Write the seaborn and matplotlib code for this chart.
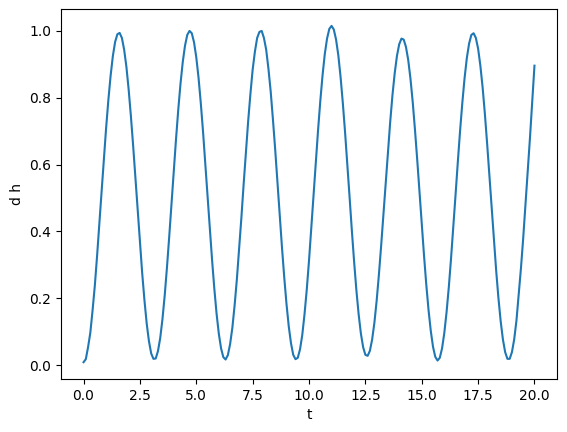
import numpy as np
import pandas as pd
import matplotlib
matplotlib.use("Agg")
import matplotlib.pyplot as plt
import seaborn as sns

# sample times (every 0.1 from 0 to 20)
t = np.round(np.arange(201) * 0.1, 1)

dh = [0.009, 0.018, 0.054, 0.097, 0.164, 0.238, 0.327, 0.421, 0.519, 0.616,
      0.709, 0.793, 0.866, 0.925, 0.967, 0.990, 0.994, 0.979, 0.944, 0.893,
      0.825, 0.745, 0.656, 0.560, 0.462, 0.366, 0.276, 0.195, 0.125, 0.072,
      0.035, 0.019, 0.020, 0.042, 0.081, 0.138, 0.209, 0.293, 0.385, 0.482,
      0.580, 0.675, 0.764, 0.842, 0.907, 0.956, 0.988, 1.000, 0.993, 0.966,
      0.921, 0.860, 0.784, 0.698, 0.604, 0.506, 0.409, 0.315, 0.229, 0.154,
      0.094, 0.050, 0.024, 0.017, 0.030, 0.063, 0.112, 0.179, 0.257, 0.347,
      0.441, 0.541, 0.636, 0.729, 0.811, 0.884, 0.938, 0.979, 0.997, 1.000,
      0.979, 0.944, 0.887, 0.819, 0.735, 0.645, 0.547, 0.450, 0.353, 0.264,
      0.184, 0.117, 0.066, 0.031, 0.018, 0.022, 0.047, 0.090, 0.152, 0.226,
      0.313, 0.408, 0.507, 0.606, 0.702, 0.790, 0.867, 0.931, 0.977, 1.006,
      1.015, 1.004, 0.974, 0.927, 0.862, 0.784, 0.696, 0.600, 0.502, 0.403,
      0.310, 0.225, 0.153, 0.095, 0.054, 0.031, 0.028, 0.043, 0.077, 0.127,
      0.193, 0.271, 0.358, 0.451, 0.546, 0.639, 0.727, 0.807, 0.873, 0.925,
      0.960, 0.977, 0.974, 0.952, 0.913, 0.857, 0.787, 0.704, 0.614, 0.518,
      0.422, 0.329, 0.242, 0.166, 0.103, 0.055, 0.025, 0.014, 0.022, 0.050,
      0.096, 0.158, 0.233, 0.320, 0.413, 0.510, 0.608, 0.701, 0.785, 0.859,
      0.919, 0.962, 0.988, 0.993, 0.979, 0.947, 0.896, 0.831, 0.752, 0.663,
      0.568, 0.470, 0.375, 0.284, 0.202, 0.132, 0.077, 0.039, 0.019, 0.019,
      0.039, 0.077, 0.133, 0.210, 0.290, 0.380, 0.480, 0.580, 0.680, 0.790,
      0.896]

df = pd.DataFrame({"t": t, "d h": dh})

fig = plt.figure(figsize=(5.67, 4.32), dpi=100)
ax = fig.add_axes([0.1076, 0.1227, 0.9824 - 0.1076, 0.979 - 0.1227])
sns.lineplot(data=df, x="t", y="d h", ax=ax, color="#1f77b4", linewidth=1.5)
ax.set_xlabel("t")
ax.set_ylabel("d h")
fig.savefig("out.png", dpi=100)
